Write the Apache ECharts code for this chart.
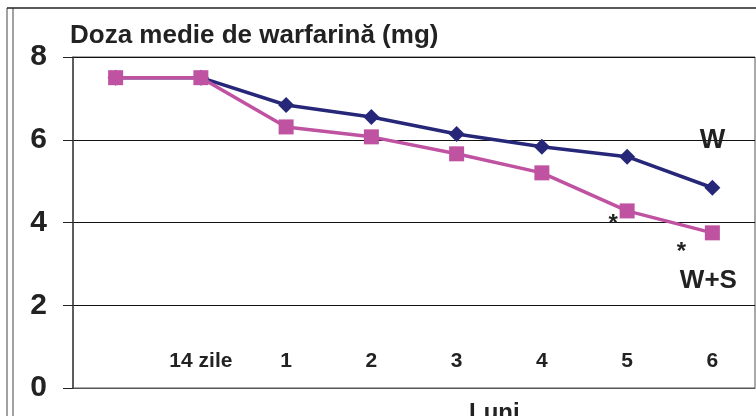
<!DOCTYPE html>
<html>
<head>
<meta charset="utf-8">
<script src="https://cdn.jsdelivr.net/npm/echarts@6/dist/echarts.min.js"></script>
<style>
  html, body { margin: 0; padding: 0; background: #fff; }
  #main { width: 756px; height: 416px; }
</style>
</head>
<body>
<div id="main"></div>
<script>
// categorii pe axa X (primul punct nu are eticheta)
const categories = ["", "14 zile", "1", "2", "3", "4", "5", "6"];
const yTicks = [0, 2, 4, 6, 8];
// doza medie (mg)
const dozaW = [7.5, 7.5, 6.84, 6.55, 6.14, 5.83, 5.59, 4.84];
const dozaWS = [7.5, 7.5, 6.31, 6.07, 5.66, 5.2, 4.28, 3.75];
// puncte semnificative (*) pe seria W+S
const signif = [6, 7];

const navy = "#27277a";
const magenta = "#c052a2";
const font = "Liberation Sans, Arial, sans-serif";

const wsData = dozaWS.map((v, i) => {
  if (!signif.includes(i)) return v;
  const last = i === dozaWS.length - 1;
  return {
    value: v,
    label: {
      show: true,
      position: "bottom",
      formatter: last ? "{a|*}\n{b|W+S}" : "{a|*}",
      offset: last ? [-4, -6] : [-14, -12],
      rich: {
        a: { fontSize: 24, fontWeight: "bold", color: "#222", fontFamily: font, padding: last ? [0, 54, 0, 0] : 0, lineHeight: 26 },
        b: { fontSize: 26, fontWeight: "bold", color: "#222", fontFamily: font, lineHeight: 30 },
      },
    },
  };
});

const wData = dozaW.map((v, i) =>
  i === dozaW.length - 1
    ? { value: v, label: { show: true, position: "top", distance: 26, formatter: "W", fontSize: 27, fontWeight: "bold", color: "#222", fontFamily: font } }
    : v
);

const chart = echarts.init(document.getElementById("main"));
chart.setOption({
  animation: false,
  title: [
    {
      text: "Doza medie de warfarină (mg)",
      left: 65,
      top: 18,
      textStyle: { fontSize: 26, fontWeight: "bold", color: "#222", fontFamily: font },
    },
    {
      text: "Luni",
      left: 464,
      top: 396,
      textStyle: { fontSize: 24, fontWeight: "bold", color: "#222", fontFamily: font },
    },
  ],
  graphic: [
    { type: "line", shape: { x1: 7, y1: 8, x2: 7, y2: 416 }, style: { stroke: "#444", lineWidth: 1 } },
    { type: "line", shape: { x1: 13, y1: 8, x2: 13, y2: 416 }, style: { stroke: "#444", lineWidth: 1 } },
    { type: "line", shape: { x1: 7, y1: 8, x2: 756, y2: 8 }, style: { stroke: "#222", lineWidth: 1.5 } },
  ],
  grid: {
    left: 73,
    right: 1,
    top: 57,
    bottom: 28,
    show: true,
    borderColor: "#555",
    borderWidth: 1,
  },
  xAxis: {
    type: "category",
    data: categories,
    boundaryGap: true,
    axisTick: { show: false },
    axisLine: { lineStyle: { color: "#555", width: 1 } },
    axisLabel: {
      inside: true,
      margin: 16,
      fontSize: 21,
      fontWeight: "bold",
      color: "#222",
      fontFamily: font,
    },
  },
  yAxis: {
    type: "value",
    min: yTicks[0],
    max: yTicks[yTicks.length - 1],
    interval: 2,
    axisLine: { show: true, lineStyle: { color: "#444", width: 1.5 } },
    axisTick: { show: true, length: 10, lineStyle: { color: "#222" } },
    splitLine: { lineStyle: { color: "#111", width: 1 } },
    axisLabel: {
      margin: 26,
      fontSize: 30,
      fontWeight: "bold",
      color: "#222",
      fontFamily: font,
    },
  },
  series: [
    {
      name: "W",
      type: "line",
      data: wData,
      symbol: "diamond",
      symbolSize: 16,
      lineStyle: { color: navy, width: 3.5 },
      itemStyle: { color: navy },
      z: 2,
    },
    {
      name: "W+S",
      type: "line",
      data: wsData,
      symbol: "rect",
      symbolSize: 15,
      lineStyle: { color: magenta, width: 3.5 },
      itemStyle: { color: magenta },
      z: 3,
    },
  ],
});
</script>
</body>
</html>
